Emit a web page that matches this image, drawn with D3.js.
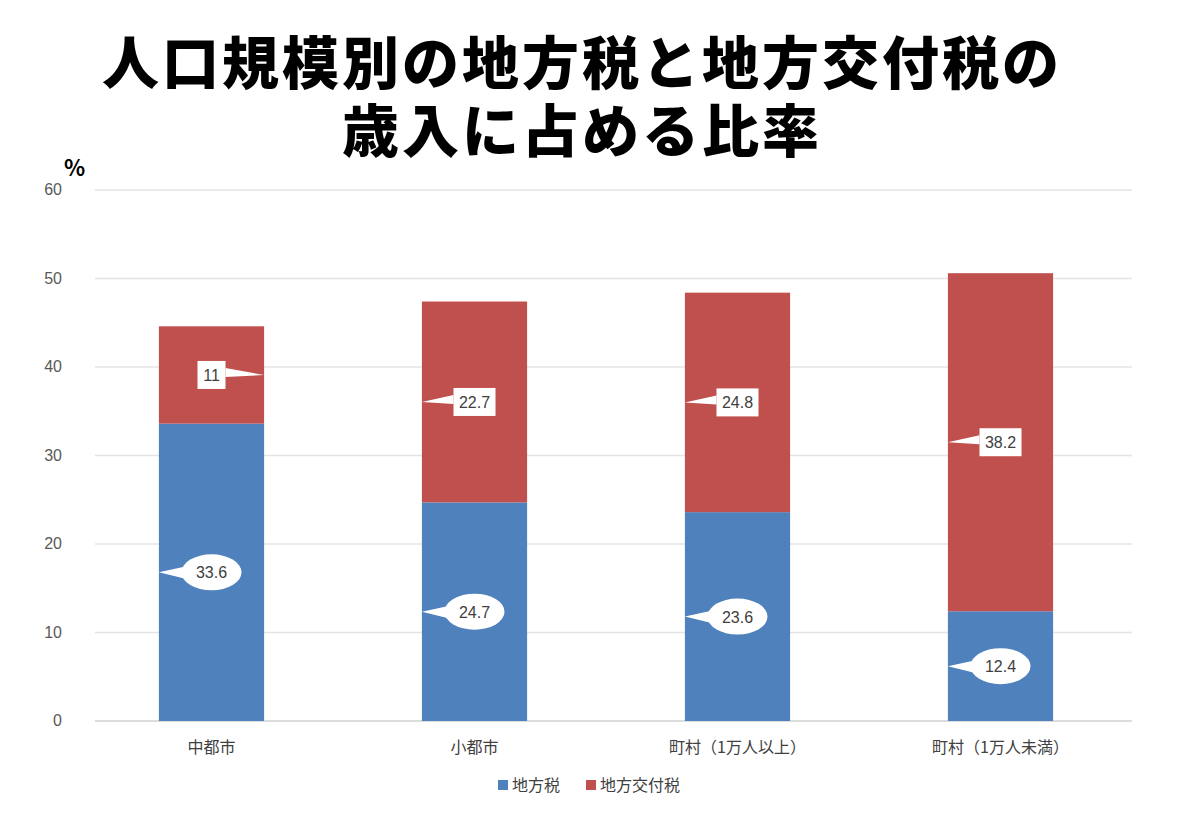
<!DOCTYPE html>
<html><head><meta charset="utf-8">
<script src="https://cdn.jsdelivr.net/npm/d3@7"></script>
<style>body{margin:0;background:#fff;font-family:"Noto Sans CJK JP","Noto Sans",sans-serif}</style>
</head><body><svg id="c" width="1200" height="831"></svg>
<script>
var categories = ["中都市", "小都市", "町村（1万人以上）", "町村（1万人未満）"];
var localTax = [33.6, 24.7, 23.6, 12.4];
var grantTax = [11, 22.7, 24.8, 38.2];
var seriesNames = ["地方税", "地方交付税"];
var colors = ["#4f81bd", "#c0504d"];
var yTicks = [0, 10, 20, 30, 40, 50, 60];

var svg = d3.select("#c");
var x = d3.scaleBand().domain(categories).range([80, 1132]).paddingInner(0.6).paddingOuter(0.3);
var y = d3.scaleLinear().domain([0, 60]).range([721, 190]);

// title
svg.append("text").attr("x", 582).attr("y", 84).attr("text-anchor", "middle").attr("letter-spacing", 3)
  .attr("font-size", 57).attr("font-weight", 900).text("人口規模別の地方税と地方交付税の");
svg.append("text").attr("x", 582).attr("y", 152).attr("text-anchor", "middle").attr("letter-spacing", 3)
  .attr("font-size", 57).attr("font-weight", 900).text("歳入に占める比率");
svg.append("text").attr("x", 64).attr("y", 176).attr("font-size", 22).attr("font-weight", 700).text("%");

// grid
svg.selectAll(".grid").data(yTicks).enter().append("line")
  .attr("x1", 95).attr("x2", 1132).attr("y1", d => y(d)).attr("y2", d => y(d))
  .attr("stroke", d => d === 0 ? "#d0d0d0" : "#e4e4e4").attr("stroke-width", 1.3);
svg.selectAll(".yl").data(yTicks).enter().append("text")
  .attr("x", 62).attr("y", d => y(d) + 5).attr("text-anchor", "end")
  .attr("font-size", 16).attr("fill", "#595959").attr("font-family", "Liberation Sans").text(d => d);

var stacked = categories.map((c, i) => ({c: c, a: localTax[i], b: grantTax[i]}));
var bw = x.bandwidth();

svg.selectAll(".ba").data(stacked).enter().append("rect")
  .attr("x", d => x(d.c)).attr("width", bw)
  .attr("y", d => y(d.a)).attr("height", d => y(0) - y(d.a)).attr("fill", colors[0]);
svg.selectAll(".bb").data(stacked).enter().append("rect")
  .attr("x", d => x(d.c)).attr("width", bw)
  .attr("y", d => y(d.a + d.b)).attr("height", d => y(d.a) - y(d.a + d.b)).attr("fill", colors[1]);

// callouts
stacked.forEach(function(d, i) {
  var cx = x(d.c) + bw / 2;
  // blue: ellipse with pointer to left edge
  var cy = y(d.a / 2);
  var tipX = x(d.c);
  svg.append("path").attr("d", "M" + tipX + "," + cy + "L" + (cx - 25) + "," + (cy - 6) + "L" + (cx - 20) + "," + (cy + 8) + "Z").attr("fill", "#fff");
  svg.append("ellipse").attr("cx", cx).attr("cy", cy).attr("rx", 30).attr("ry", 18).attr("fill", "#fff");
  svg.append("text").attr("x", cx).attr("y", cy + 6).attr("text-anchor", "middle")
    .attr("font-size", 16).attr("fill", "#404040").attr("font-family", "Liberation Sans").text(d.a);
  // red: rectangle
  var ry = y(d.a + d.b / 2);
  var lab = String(d.b);
  var w = lab.length > 2 ? 42 : 28;
  var right = i === 0;
  var tx = right ? x(d.c) + bw : x(d.c);
  var ex = right ? cx + w / 2 : cx - w / 2;
  svg.append("path").attr("d", "M" + tx + "," + ry + "L" + ex + "," + (ry - 7) + "L" + ex + "," + (ry + 2) + "Z").attr("fill", "#fff");
  svg.append("rect").attr("x", cx - w / 2).attr("y", ry - 14).attr("width", w).attr("height", 28).attr("fill", "#fff");
  svg.append("text").attr("x", cx).attr("y", ry + 6).attr("text-anchor", "middle")
    .attr("font-size", 16).attr("fill", "#404040").attr("font-family", "Liberation Sans").text(lab);
});

// x labels
svg.selectAll(".xl").data(categories).enter().append("text")
  .attr("x", d => x(d) + bw / 2).attr("y", 753).attr("text-anchor", "middle")
  .attr("font-size", 16).attr("fill", "#404040").text(d => d);

// legend
var lg = svg.append("g");
[[498, 0], [586, 1]].forEach(function(p) {
  lg.append("rect").attr("x", p[0]).attr("y", 780).attr("width", 10).attr("height", 10).attr("fill", colors[p[1]]);
  lg.append("text").attr("x", p[0] + 14).attr("y", 791).attr("font-size", 16).attr("fill", "#404040").text(seriesNames[p[1]]);
});
</script></body></html>
